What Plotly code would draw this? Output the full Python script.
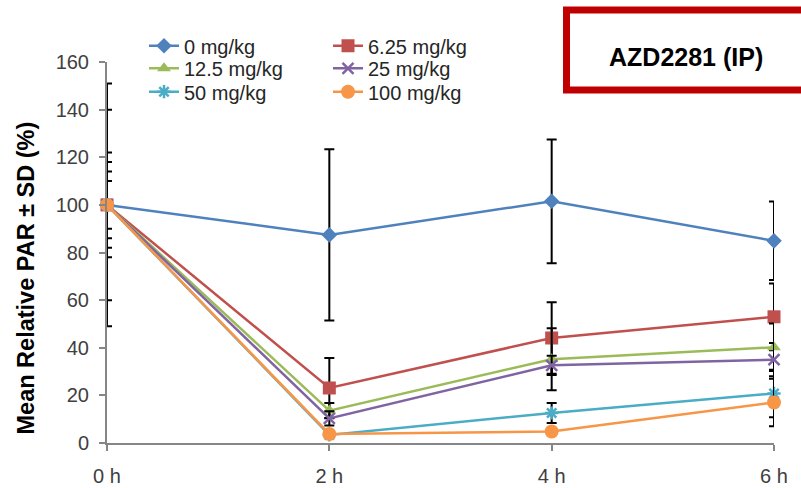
import plotly.graph_objects as go

times = [0, 2, 4, 6]
time_labels = ["0 h", "2 h", "4 h", "6 h"]
series_names = ["0 mg/kg", "6.25 mg/kg", "12.5 mg/kg", "25 mg/kg", "50 mg/kg", "100 mg/kg"]
v_0 = [100, 87.4, 101.5, 84.9]
v_625 = [100, 23.1, 44.1, 53.0]
v_125 = [100, 13.6, 35.2, 40.2]
v_25 = [100, 10.3, 32.6, 35.0]
v_50 = [100, 3.4, 12.6, 20.8]
v_100 = [100, 3.8, 4.8, 17.0]
sd_0 = [10, 36, 26, 16.5]
sd_625 = [40, 12.6, 15, 14]
sd_125 = [14, 3.2, 13, 10]
sd_25 = [51, 3, 4, 7]
sd_50 = [18, 1, 4.2, 10]
sd_100 = [22, 1, 1, 10]

values = [v_0, v_625, v_125, v_25, v_50, v_100]
sds = [sd_0, sd_625, sd_125, sd_25, sd_50, sd_100]
colors = ["#4F81BD", "#C0504D", "#9BBB59", "#8064A2", "#4BACC6", "#F79646"]
symbols = ["diamond", "square", "triangle-up", "x-thin-open", "asterisk-open", "circle"]
sizes = [12, 13, 12, 11, 11, 14]
legends = ["legend", "legend", "legend2", "legend2", "legend3", "legend3"]

fig = go.Figure()
for name, v, sd, c, s, sz, lg in zip(series_names, values, sds, colors, symbols, sizes, legends):
    marker = dict(symbol=s, size=sz, color=c)
    if s.endswith("open"):
        marker["line"] = dict(color=c, width=2.5)
    fig.add_trace(go.Scatter(
        x=times, y=v, name=name, mode="lines+markers",
        line=dict(color=c, width=2.5), marker=marker,
        error_y=dict(type="data", array=sd, visible=True, color="black", thickness=2, width=5),
        legend=lg, cliponaxis=False,
    ))

L, R, T, B = 107, 27, 62, 45
W, H = 801, 488
pw, ph = W - L - R, H - T - B

def px(x):
    return (x - L) / pw

def py(y):
    return (H - B - y) / ph

leg_common = dict(orientation="h", xanchor="left", yanchor="middle", entrywidth=139,
                  font=dict(family="Liberation Sans, Arial", size=20, color="#262626"),
                  bgcolor="rgba(0,0,0,0)", itemclick=False)
fig.update_layout(
    width=W, height=H,
    margin=dict(l=L, r=R, t=T, b=B, autoexpand=False),
    paper_bgcolor="white", plot_bgcolor="white",
    font=dict(family="Liberation Sans, Arial", size=20, color="#404040"),
    showlegend=True,
    legend=dict(x=px(144), y=py(45.7), **leg_common),
    legend2=dict(x=px(144), y=py(68.3), **leg_common),
    legend3=dict(x=px(144), y=py(91.7), **leg_common),
    xaxis=dict(range=[0, 6], tickvals=times, ticktext=time_labels, showgrid=False, zeroline=False,
               showline=True, linecolor="#868686", linewidth=2, ticks="outside", ticklen=6,
               tickcolor="#868686", tickwidth=1.5, tickfont=dict(size=20, color="#404040"),
               automargin=False, ticklabelstandoff=8),
    yaxis=dict(range=[0, 160], dtick=20, showgrid=False, zeroline=False,
               showline=True, linecolor="#868686", linewidth=2, ticks="outside", ticklen=6,
               tickcolor="#868686", tickwidth=1.5, tickfont=dict(size=20, color="#404040"),
               automargin=False, ticklabelstandoff=6),
    shapes=[dict(type="rect", xref="paper", yref="paper", x0=px(566.5), x1=px(830), y0=py(90), y1=py(10),
                 line=dict(color="#C00000", width=7), fillcolor="white", layer="above")],
    annotations=[
        dict(text="<b>AZD2281 (IP)</b>", xref="paper", yref="paper", x=px(686), y=py(57),
             xanchor="center", yanchor="middle", showarrow=False,
             font=dict(size=25, color="black")),
        dict(text="<b>Mean Relative PAR ± SD (%)</b>", xref="paper", yref="paper", x=px(25), y=py(278.5),
             xanchor="center", yanchor="middle", showarrow=False, textangle=-90,
             font=dict(size=23.5, color="black")),
    ],
)

fig.write_html("out.html", config={"displayModeBar": False},
               post_script="document.body.style.margin='0';")
